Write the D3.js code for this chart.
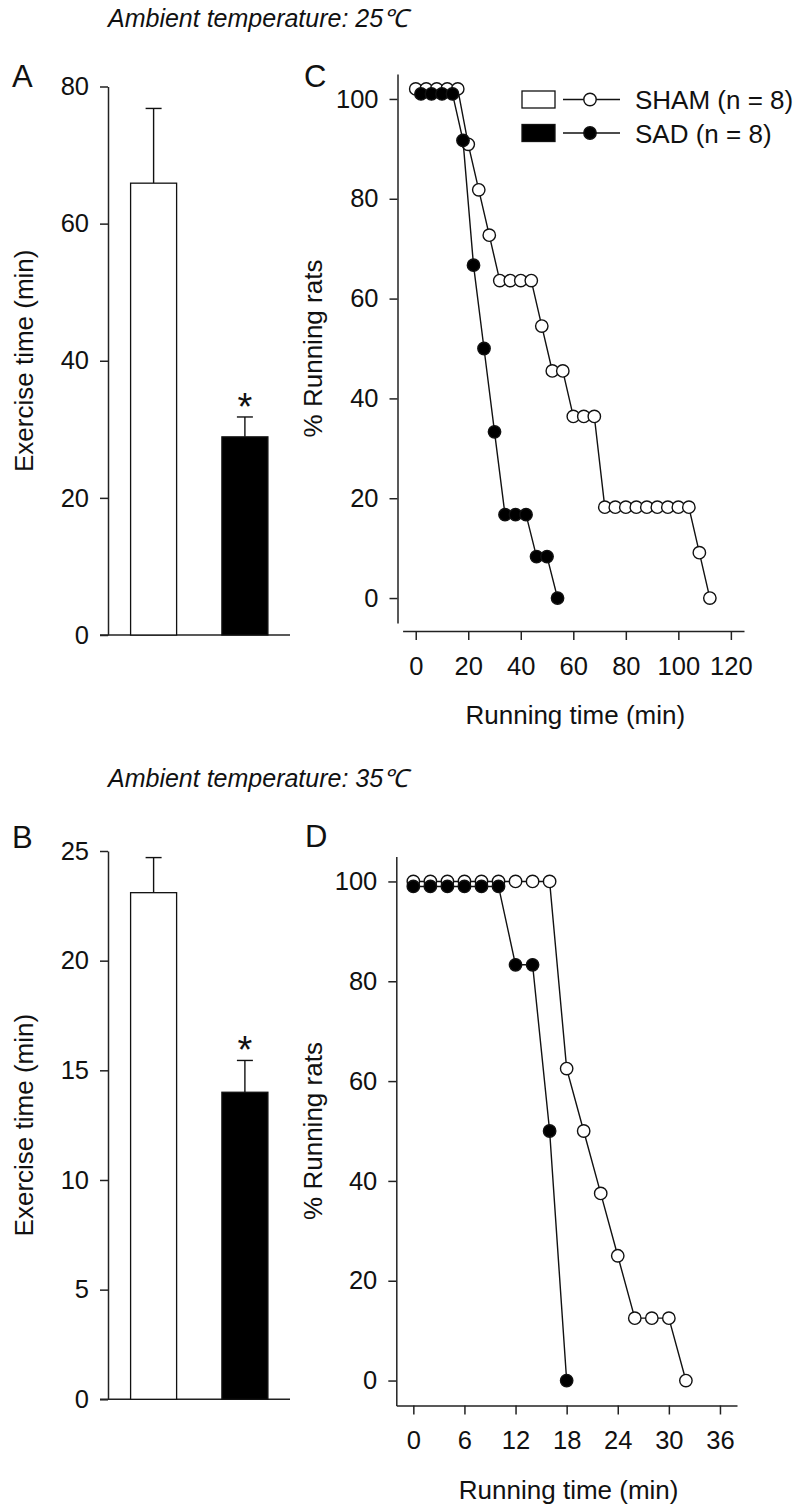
<!DOCTYPE html>
<html>
<head>
<meta charset="utf-8">
<script src="https://cdn.jsdelivr.net/npm/d3@7"></script>
<style>
  body { margin: 0; background: #fff; }
  svg { display: block; font-family: "Liberation Sans", Arial, sans-serif; }
  .axis path, .axis line { stroke: #222; stroke-width: 1.5; }
  .axis text { font-size: 25.5px; fill: #111; font-family: "Liberation Sans", Arial, sans-serif; }
</style>
</head>
<body>
<div id="chart"></div>
<script>
// DATA
var groups = ["SHAM", "SAD"];
var legendText = ["SHAM (n = 8)", "SAD (n = 8)"];

// exercise time (min), mean and top of error bar
var mean25 = [65.9, 28.9];
var errTop25 = [76.8, 31.8];
var mean35 = [23.1, 14.0];
var errTop35 = [24.7, 15.45];
var signif = [false, true];

// % running rats, 25 C
var shamTime25 = [0, 4, 8, 12, 16, 20, 24, 28, 32, 36, 40, 44, 48, 52, 56, 60, 64, 68, 72, 76, 80, 84, 88, 92, 96, 100, 104, 108, 112];
var shamPct25 = [102, 102, 102, 102, 102, 90.9, 81.8, 72.7, 63.6, 63.6, 63.6, 63.6, 54.5, 45.5, 45.5, 36.4, 36.4, 36.4, 18.2, 18.2, 18.2, 18.2, 18.2, 18.2, 18.2, 18.2, 18.2, 9.1, 0];
var sadTime25 = [2, 6, 10, 14, 18, 22, 26, 30, 34, 38, 42, 46, 50, 54];
var sadPct25 = [101, 101, 101, 101, 91.7, 66.7, 50, 33.3, 16.7, 16.7, 16.7, 8.3, 8.3, 0];

// % running rats, 35 C
var shamTime35 = [0, 2, 4, 6, 8, 10, 12, 14, 16, 18, 20, 22, 24, 26, 28, 30, 32];
var shamPct35 = [100, 100, 100, 100, 100, 100, 100, 100, 100, 62.5, 50, 37.5, 25, 12.5, 12.5, 12.5, 0];
var sadTime35 = [0, 2, 4, 6, 8, 10, 12, 14, 16, 18];
var sadPct35 = [99, 99, 99, 99, 99, 99, 83.3, 83.3, 50, 0];

// tick labels
var barTicks25 = [0, 20, 40, 60, 80];
var barTicks35 = [0, 5, 10, 15, 20, 25];
var pctTicks = [0, 20, 40, 60, 80, 100];
var timeTicks25 = [0, 20, 40, 60, 80, 100, 120];
var timeTicks35 = [0, 6, 12, 18, 24, 30, 36];

var WIDTH = 795, HEIGHT = 1505;

var svg = d3.select("#chart").append("svg")
    .attr("width", WIDTH)
    .attr("height", HEIGHT);

svg.append("rect").attr("width", WIDTH).attr("height", HEIGHT).attr("fill", "#fff");

function zip(xs, ys) {
    return xs.map(function(x, i) { return {x: x, y: ys[i]}; });
}

// titles and panel letters
function title(y, txt) {
    svg.append("text")
        .attr("x", 108).attr("y", y)
        .attr("font-size", 25)
        .attr("font-style", "italic")
        .attr("fill", "#111")
        .text(txt);
}
title(27, "Ambient temperature: 25\u2103");
title(787, "Ambient temperature: 35\u2103");

function letter(x, y, t) {
    svg.append("text").attr("x", x).attr("y", y)
        .attr("font-size", 31).attr("fill", "#111").text(t);
}
letter(12, 87, "A");
letter(12, 848, "B");
letter(304, 87, "C");
letter(305, 847, "D");

// BAR PANELS
function barPanel(means, tops, ymax, ticks, y0, y1) {
    var x = d3.scaleBand()
        .domain(groups)
        .range([108.5, 290])
        .paddingInner(0.496)
        .paddingOuter(0.242);
    var y = d3.scaleLinear().domain([0, ymax]).range([y0, y1]);

    var g = svg.append("g");

    g.append("g")
        .attr("class", "axis")
        .attr("transform", "translate(108,0)")
        .call(d3.axisLeft(y).tickValues(ticks).tickSize(8).tickSizeOuter(0).tickPadding(11));

    g.append("line")
        .attr("x1", 100).attr("x2", 290)
        .attr("y1", y(0)).attr("y2", y(0))
        .attr("stroke", "#222").attr("stroke-width", 1.5);

    // error bars
    groups.forEach(function(d, i) {
        var cx = x(d) + x.bandwidth() / 2;
        g.append("line")
            .attr("x1", cx).attr("x2", cx)
            .attr("y1", y(means[i])).attr("y2", y(tops[i]))
            .attr("stroke", "#111").attr("stroke-width", 1.4);
        g.append("line")
            .attr("x1", cx - 8).attr("x2", cx + 8)
            .attr("y1", y(tops[i])).attr("y2", y(tops[i]))
            .attr("stroke", "#111").attr("stroke-width", 1.4);
        if (signif[i]) {
            g.append("text")
                .attr("x", cx).attr("y", y(tops[i]) + 3)
                .attr("text-anchor", "middle")
                .attr("font-size", 38)
                .attr("fill", "#111")
                .text("*");
        }
    });

    g.selectAll(".bar")
        .data(groups)
        .enter()
        .append("rect")
        .attr("x", function(d) { return x(d); })
        .attr("width", x.bandwidth())
        .attr("y", function(d, i) { return y(means[i]); })
        .attr("height", function(d, i) { return y(0) - y(means[i]); })
        .attr("fill", function(d, i) { return i == 0 ? "#fff" : "#000"; })
        .attr("stroke", "#111")
        .attr("stroke-width", 1.3);

    g.append("text")
        .attr("transform", "translate(33," + ((y0 + y1) / 2) + ") rotate(-90)")
        .attr("text-anchor", "middle")
        .attr("font-size", 26)
        .attr("fill", "#111")
        .text("Exercise time (min)");
}

barPanel(mean25, errTop25, 80, barTicks25, 635, 86.5);
barPanel(mean35, errTop35, 25, barTicks35, 1399.3, 851);

// SURVIVAL PANELS
function curvePanel(opt) {
    var x = d3.scaleLinear().domain(opt.xdom).range(opt.xrange);
    var y = d3.scaleLinear().domain([-5, 105]).range(opt.yrange);
    var g = svg.append("g");

    g.append("g")
        .attr("class", "axis")
        .attr("transform", "translate(" + opt.yAxisX + ",0)")
        .call(d3.axisLeft(y).tickValues(pctTicks).tickSize(8).tickSizeOuter(0).tickPadding(11));

    g.append("g")
        .attr("class", "axis")
        .attr("transform", "translate(0," + opt.xAxisY + ")")
        .call(d3.axisBottom(x).tickValues(opt.xticks).tickSize(9).tickSizeOuter(0).tickPadding(16.5));

    var line = d3.line().x(function(d) { return x(d.x); }).y(function(d) { return y(d.y); });

    var series = [
        {pts: zip(opt.shamT, opt.shamP), fill: "#fff"},
        {pts: zip(opt.sadT, opt.sadP), fill: "#000"}
    ];

    series.forEach(function(s) {
        g.append("path")
            .datum(s.pts)
            .attr("d", line)
            .attr("fill", "none")
            .attr("stroke", "#111")
            .attr("stroke-width", 1.4);
        g.selectAll(null)
            .data(s.pts)
            .enter()
            .append("circle")
            .attr("cx", function(d) { return x(d.x); })
            .attr("cy", function(d) { return y(d.y); })
            .attr("r", 6.2)
            .attr("fill", s.fill)
            .attr("stroke", "#111")
            .attr("stroke-width", 1.4);
    });

    g.append("text")
        .attr("transform", "translate(322," + ((opt.yrange[0] + opt.yrange[1]) / 2) + ") rotate(-90)")
        .attr("text-anchor", "middle")
        .attr("font-size", 26)
        .attr("fill", "#111")
        .text("% Running rats");

    g.append("text")
        .attr("x", (opt.xrange[0] + opt.xrange[1]) / 2 + 2)
        .attr("y", opt.titleY)
        .attr("text-anchor", "middle")
        .attr("font-size", 26)
        .attr("fill", "#111")
        .text("Running time (min)");
}

curvePanel({
    xdom: [-5, 125], xrange: [402.6, 744], xticks: timeTicks25,
    yrange: [623, 74], yAxisX: 397.5, xAxisY: 631, titleY: 724,
    shamT: shamTime25, shamP: shamPct25, sadT: sadTime25, sadP: sadPct25
});

curvePanel({
    xdom: [-2, 38], xrange: [396.3, 737], xticks: timeTicks35,
    yrange: [1405.5, 856.5], yAxisX: 396.3, xAxisY: 1405.5, titleY: 1499,
    shamT: shamTime35, shamP: shamPct35, sadT: sadTime35, sadP: sadPct35
});

// LEGEND
var legend = svg.append("g").attr("transform", "translate(522,0)");
var legendY = [99.5, 133];
legendText.forEach(function(t, i) {
    var ly = legendY[i];
    legend.append("rect")
        .attr("x", 0).attr("y", ly - 8.5)
        .attr("width", 33).attr("height", 17)
        .attr("fill", i == 0 ? "#fff" : "#000")
        .attr("stroke", "#111").attr("stroke-width", 1.3);
    legend.append("line")
        .attr("x1", 41).attr("x2", 98)
        .attr("y1", ly).attr("y2", ly)
        .attr("stroke", "#111").attr("stroke-width", 1.4);
    legend.append("circle")
        .attr("cx", 68).attr("cy", ly).attr("r", 6.2)
        .attr("fill", i == 0 ? "#fff" : "#000")
        .attr("stroke", "#111").attr("stroke-width", 1.4);
    legend.append("text")
        .attr("x", 113).attr("y", ly + 9.5)
        .attr("font-size", 26)
        .attr("fill", "#111")
        .text(t);
});
</script>
</body>
</html>
